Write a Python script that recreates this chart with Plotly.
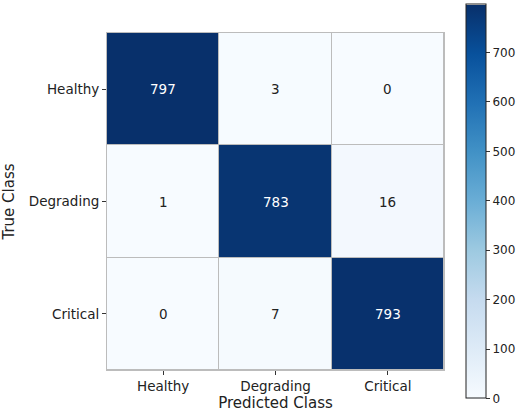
import plotly.graph_objects as go

# confusion matrix values
classes = ["Healthy", "Degrading", "Critical"]
counts = [
    [797, 3, 0],
    [1, 783, 16],
    [0, 7, 793],
]
cbar_ticks = [0, 100, 200, 300, 400, 500, 600, 700]

zmax = max(max(row) for row in counts)

fig = go.Figure()
fig.add_trace(go.Heatmap(
    z=counts,
    x=classes,
    y=classes,
    colorscale="Blues",
    zmin=0,
    zmax=zmax,
    xgap=1,
    ygap=1,
    colorbar=dict(
        thickness=20,
        len=394,
        lenmode="pixels",
        x=1.065,
        xanchor="left",
        y=0.5,
        yanchor="middle",
        xpad=0,
        ypad=0,
        outlinewidth=1,
        outlinecolor="#222",
        ticks="outside",
        ticklen=4,
        tickcolor="#333",
        tickvals=cbar_ticks,
        tickfont=dict(size=12, color="#222"),
    ),
))

# cell labels, white on dark cells
annotations = []
for i, row in enumerate(counts):
    for j, val in enumerate(row):
        annotations.append(dict(
            x=classes[j],
            y=classes[i],
            text=str(val),
            showarrow=False,
            font=dict(size=13.5, color="white" if val > zmax / 2 else "#222"),
        ))

fig.update_layout(
    width=520,
    height=413,
    margin=dict(l=107, r=76, t=33, b=43, autoexpand=False),
    paper_bgcolor="white",
    plot_bgcolor="#bcbcbc",
    font=dict(family="DejaVu Sans", color="#222"),
    annotations=annotations,
)

fig.update_xaxes(
    title=dict(text="Predicted Class", font=dict(size=15), standoff=4),
    tickfont=dict(size=13.5),
    ticks="outside",
    ticklen=4,
    tickcolor="#333",
    showgrid=False,
    showline=True,
    linecolor="#bcbcbc",
    mirror=True,
)
fig.update_yaxes(
    title=dict(text="True Class", font=dict(size=15), standoff=14),
    tickfont=dict(size=13.5),
    autorange="reversed",
    ticks="outside",
    ticklen=4,
    tickcolor="#333",
    showgrid=False,
    showline=True,
    linecolor="#bcbcbc",
    mirror=True,
)

# drop the browser's default body margin so the figure fills the window
fig.write_html(
    "out.html",
    config={"displayModeBar": False},
    post_script="document.body.style.margin='0';",
)
